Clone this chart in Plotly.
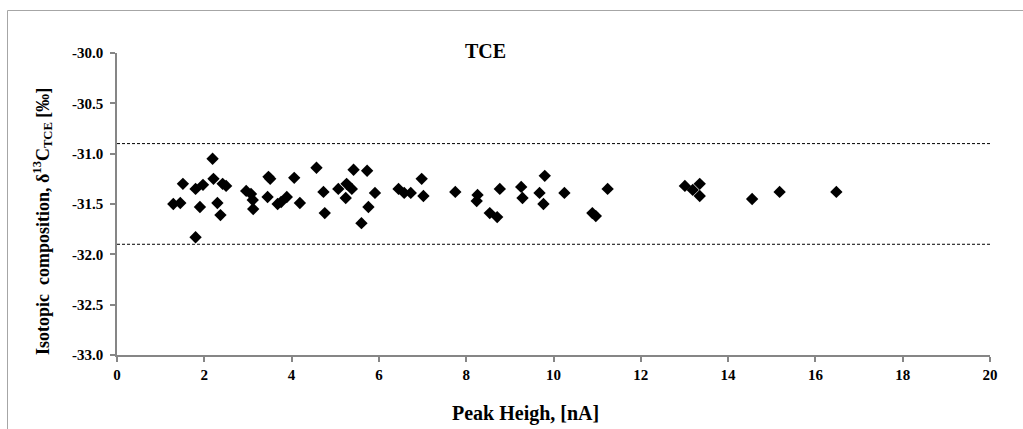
import plotly.graph_objects as go

# Data
peak_height = [1.29, 1.45, 1.51, 1.80, 1.90, 1.80, 1.97, 2.19, 2.21, 2.30, 2.37, 2.42, 2.50,
               2.96, 3.07, 3.11, 3.12, 3.47, 3.51, 3.45, 3.68, 3.76, 3.89, 4.06, 4.19,
               4.57, 4.73, 4.76, 5.07, 5.26, 5.38, 5.24, 5.42, 5.73, 5.91, 5.76, 5.60,
               6.45, 6.58, 6.73, 6.98, 7.02, 7.75, 8.26, 8.24, 8.54, 8.71, 8.77,
               9.26, 9.29, 9.68, 9.77, 9.80, 10.25, 10.89, 10.97, 11.24,
               13.01, 13.35, 13.19, 13.35, 14.55, 15.18, 16.48]
delta13c = [-31.50, -31.49, -31.30, -31.35, -31.53, -31.83, -31.31, -31.05, -31.25, -31.49, -31.61, -31.30, -31.32,
            -31.37, -31.40, -31.46, -31.55, -31.23, -31.25, -31.43, -31.50, -31.48, -31.43, -31.24, -31.49,
            -31.14, -31.38, -31.59, -31.35, -31.30, -31.35, -31.44, -31.16, -31.17, -31.39, -31.53, -31.69,
            -31.35, -31.39, -31.39, -31.25, -31.42, -31.38, -31.41, -31.47, -31.59, -31.63, -31.35,
            -31.33, -31.44, -31.39, -31.50, -31.22, -31.39, -31.59, -31.62, -31.35,
            -31.32, -31.30, -31.36, -31.42, -31.45, -31.38, -31.38]
limit_x = [0, 20]
upper_limit = [-30.9, -30.9]
lower_limit = [-31.9, -31.9]
x_ticks = [0, 2, 4, 6, 8, 10, 12, 14, 16, 18, 20]
y_ticks = [-33.0, -32.5, -32.0, -31.5, -31.0, -30.5, -30.0]
x_tick_labels = ["<b>%d</b>" % v for v in x_ticks]
y_tick_labels = ["<b>%.1f</b>" % v for v in y_ticks]  # plain hyphen minus like the reference

FONT = "Liberation Serif"
AXIS_COLOR = "#868686"

fig = go.Figure()
for yl in (upper_limit, lower_limit):
    fig.add_trace(go.Scatter(x=limit_x, y=yl, mode="lines",
                             line=dict(color="black", width=1, dash="3px,2px"),
                             showlegend=False, hoverinfo="skip"))
fig.add_trace(go.Scatter(x=peak_height, y=delta13c, mode="markers",
                         marker=dict(symbol="diamond", size=9.5, color="black",
                                     line=dict(width=0)),
                         showlegend=False))

L, R, T, B = 117, 33, 53, 74
W, H = 1023, 429
pw, ph = W - L - R, H - T - B


def px(xp):
    return (xp - L) / pw


def py(yp):
    return (H - B - yp) / ph


axis_common = dict(showgrid=False, zeroline=False, showline=True, linecolor=AXIS_COLOR,
                   linewidth=1.5, ticks="outside", ticklen=5, tickcolor=AXIS_COLOR,
                   tickwidth=1.5, tickfont=dict(family=FONT, size=15, color="black"))

fig.update_layout(
    width=W, height=H,
    margin=dict(l=L, r=R, t=T, b=B),
    font=dict(family=FONT, color="black"),
    paper_bgcolor="white", plot_bgcolor="white",
    xaxis=dict(range=[0, 20], tickmode="array", tickvals=x_ticks, ticktext=x_tick_labels,
               **axis_common),
    yaxis=dict(range=[-33, -30], tickmode="array", tickvals=y_ticks, ticktext=y_tick_labels,
               ticklabelstandoff=4, **axis_common),
    annotations=[
        dict(text="<b>TCE</b>", x=px(485), y=py(51), xref="paper", yref="paper",
             showarrow=False, xanchor="center", yanchor="middle",
             font=dict(family=FONT, size=20, color="black")),
        dict(text="<b>Peak Heigh, [nA]</b>", x=px(525), y=py(413), xref="paper", yref="paper",
             showarrow=False, xanchor="center", yanchor="middle",
             font=dict(family=FONT, size=20, color="black")),
        dict(text="<b>Isotopic  composition, δ<sup>13</sup>C<sub>TCE</sub> [‰]</b>",
             x=px(42), y=py(222), xref="paper", yref="paper", textangle=-90,
             showarrow=False, xanchor="center", yanchor="middle",
             font=dict(family=FONT, size=18, color="black")),
    ],
    shapes=[
        dict(type="line", xref="paper", yref="paper", x0=px(7.5), x1=px(7.5),
             y0=py(10.5), y1=py(440), line=dict(color="#a6a6a6", width=1)),
        dict(type="line", xref="paper", yref="paper", x0=px(7.5), x1=px(1030),
             y0=py(10.5), y1=py(10.5), line=dict(color="#a6a6a6", width=1)),
    ],
)

fig.write_html("out.html")
